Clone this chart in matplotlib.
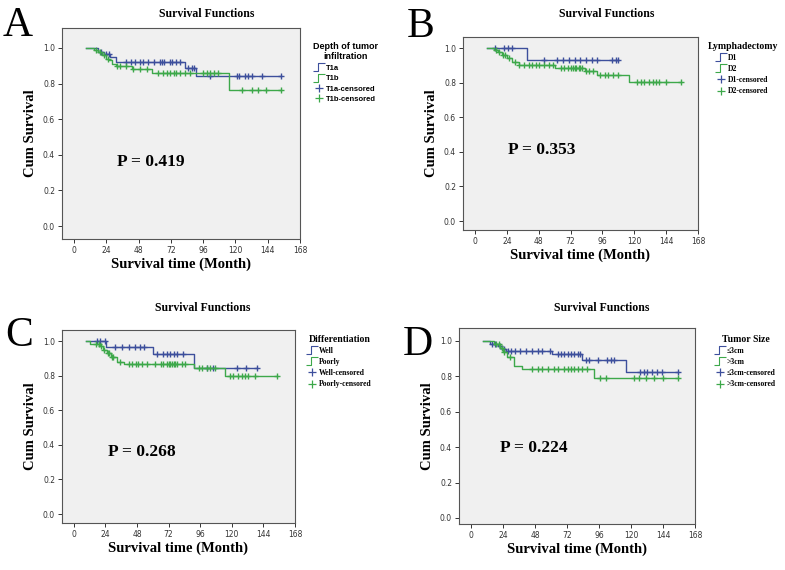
import numpy as np
import matplotlib
matplotlib.use("Agg")
import matplotlib.pyplot as plt
from matplotlib.path import Path
from matplotlib.lines import Line2D

# Kaplan-Meier curves: step times / survival, plus censored times
# Panel A - depth of tumor infiltration
a_t1a_time = [9, 18, 22, 27, 31, 82.5, 91, 154]
a_t1a_surv = [1.0, 0.98, 0.965, 0.95, 0.92, 0.885, 0.845, 0.845]
a_t1a_cens = [20, 24, 26, 38.6, 42, 45, 49, 51.5, 55, 59.5, 64, 65, 67, 71, 73, 76, 79,
              84.5, 87.5, 89, 101, 121, 123, 127, 129, 132, 139.5, 154]
a_t1b_time = [9, 15, 18, 21, 24, 26, 28, 31, 43, 58, 115, 154]
a_t1b_surv = [1.0, 0.99, 0.98, 0.96, 0.94, 0.93, 0.91, 0.90, 0.88, 0.86, 0.765, 0.765]
a_t1b_cens = [16, 19, 22, 25, 31.7, 34, 38.6, 44, 49, 54, 62.7, 66, 69, 71, 74, 76, 79,
              82.5, 86, 96, 99, 101, 104, 107, 124.6, 132, 137, 143, 154]

# Panel B - lymphadenectomy
b_d1_time = [9, 39.4, 108]
b_d1_surv = [1.0, 0.933, 0.933]
b_d1_cens = [15, 22, 25, 28, 52, 62, 66, 71, 75, 79, 84, 88, 92, 103, 106, 108]
b_d2_time = [9, 14, 17, 20, 24, 28, 33, 60, 83, 92, 116, 155]
b_d2_surv = [1.0, 0.99, 0.98, 0.96, 0.94, 0.92, 0.90, 0.885, 0.865, 0.842, 0.803, 0.803]
b_d2_cens = [16, 18, 21, 23, 26, 30, 33.5, 37, 41, 43, 46, 48, 52, 56, 59, 65, 67, 70, 72,
             74, 75, 76, 78, 79, 81, 84, 86, 89, 94, 98, 100, 104, 108, 122, 125, 127, 131,
             134, 136, 139, 144, 155]

# Panel C - differentiation
c_well_time = [9, 24.7, 60, 91, 139]
c_well_surv = [1.0, 0.965, 0.927, 0.843, 0.843]
c_well_cens = [17.7, 20, 23.7, 31.6, 36.6, 41.7, 46.7, 50.5, 53, 63, 68, 71, 73, 76, 78, 83,
               101, 106, 124, 131, 139]
c_poor_time = [9, 12, 20, 22, 25, 28, 33, 38, 91, 115, 154]
c_poor_surv = [1.0, 0.985, 0.97, 0.95, 0.93, 0.91, 0.88, 0.865, 0.845, 0.80, 0.80]
c_poor_cens = [17, 19, 21, 23, 26, 27, 29, 30, 35, 42, 44, 47, 49, 52, 55.5, 62, 66, 68, 71,
               72, 73, 74.5, 76, 77, 78, 82, 84.6, 95, 97, 101, 103.5, 107, 119, 121, 125,
               127.5, 130, 132.5, 137.6, 154]

# Panel D - tumor size
d_small_time = [9, 14, 20, 23, 26, 61, 83.6, 116, 155.6]
d_small_surv = [1.0, 0.985, 0.97, 0.955, 0.945, 0.925, 0.89, 0.825, 0.825]
d_small_cens = [16, 18, 22, 25, 28, 30, 33, 36.5, 41.4, 46, 50, 53, 59, 65, 67.5, 70, 72.4,
                75, 77, 80, 82, 86, 88.6, 95, 102, 105, 107, 127, 129.5, 132, 136, 139.5,
                143, 155.6]
d_large_time = [9, 17, 22, 24, 27, 32, 38, 92, 155.6]
d_large_surv = [1.0, 0.98, 0.96, 0.94, 0.91, 0.86, 0.842, 0.79, 0.79]
d_large_cens = [19, 21, 23, 25, 29, 46, 50, 53, 57.6, 62.5, 65, 70, 72.5, 75, 77, 80, 83.6,
                87, 97, 101, 122, 126, 131, 137, 144, 155.6]

p_values = ["P = 0.419", "P = 0.353", "P = 0.268", "P = 0.224"]
legend_titles = ["Depth of tumor\ninfiltration", "Lymphadectomy", "Differentiation", "Tumor Size"]
group_names = [["T1a", "T1b"], ["D1", "D2"], ["Well", "Poorly"], ["\u22643cm", ">3cm"]]
panel_letters = ["A", "B", "C", "D"]

BLUE = "#3d4f9c"
GREEN = "#3da84a"
W, H = 785, 570

fig = plt.figure(figsize=(W / 100, H / 100), dpi=100)
fig.patch.set_facecolor("white")

# little step icon for the legend, like SPSS draws it
step_icon = Path([(-1, -0.8), (-0.2, -0.8), (-0.2, 0.8), (1, 0.8)],
                 [Path.MOVETO, Path.LINETO, Path.LINETO, Path.LINETO])


def surv_at(times, surv, t):
    idx = np.searchsorted(times, t, side="right") - 1
    return np.asarray(surv)[idx]


def km_panel(box, ylim, groups, letter, letter_xy, title_xy, ptxt, p_xy,
             leg_title, names, leg_xy, leg_font):
    left, top, right, bottom = box
    ax = fig.add_axes([left / W, 1 - bottom / H, (right - left) / W, (bottom - top) / H])
    ax.set_facecolor("#f0f0f0")
    for (tt, ss, cc), col in zip(groups, [BLUE, GREEN]):
        tt = np.asarray(tt)
        ax.step(tt, ss, where="post", color=col, lw=1.0)
        cc = np.asarray(cc)
        ax.plot(cc, surv_at(tt, ss, cc), "+", color=col, ms=4.5, mew=1.0)
    ax.set_xlim(-9, 168)
    ax.set_ylim(*ylim)
    ax.set_xticks(np.arange(0, 169, 24))
    ax.set_yticks(np.arange(0, 1.01, 0.2))
    ax.set_yticklabels(["%.1f" % v for v in np.arange(0, 1.01, 0.2)])
    ax.tick_params(labelsize=5.5, length=3, width=0.7, colors="#333333", pad=2)
    for s in ax.spines.values():
        s.set_color("#555555")
        s.set_linewidth(0.8)
    ax.set_xlabel("Survival time (Month)", family="Liberation Serif", weight="bold",
                  fontsize=10.5, labelpad=2)
    ax.set_ylabel("Cum Survival", family="Liberation Serif", weight="bold",
                  fontsize=10.5, labelpad=4)
    ax.text(p_xy[0], p_xy[1], ptxt, family="Liberation Serif", weight="bold",
            fontsize=12.5, va="center", ha="left")

    fig.text(title_xy[0] / W, 1 - title_xy[1] / H, "Survival Functions",
             family="Liberation Serif", weight="bold", fontsize=8.5, ha="center", va="center")
    fig.text(letter_xy[0] / W, 1 - letter_xy[1] / H, letter, family="Liberation Serif",
             fontsize=30, ha="left", va="center")

    handles = [
        Line2D([], [], marker=step_icon, ls="none", color=BLUE, mfc="none", ms=8, mew=0.8),
        Line2D([], [], marker=step_icon, ls="none", color=GREEN, mfc="none", ms=8, mew=0.8),
        Line2D([], [], marker="+", ls="none", color=BLUE, ms=6, mew=0.9),
        Line2D([], [], marker="+", ls="none", color=GREEN, ms=6, mew=0.9),
    ]
    labels = [names[0], names[1], names[0] + "-censored", names[1] + "-censored"]
    leg = fig.legend(handles, labels, title=leg_title, loc="upper left",
                     bbox_to_anchor=(leg_xy[0] / W, 1 - leg_xy[1] / H), frameon=False,
                     prop={"family": leg_font, "weight": "bold", "size": 5.5},
                     handlelength=1.0, handletextpad=0.4, labelspacing=0.4,
                     borderpad=0, borderaxespad=0)
    leg.get_title().set_fontfamily(leg_font)
    leg.get_title().set_fontweight("bold")
    leg.get_title().set_multialignment("center")
    leg.get_title().set_fontsize(7 if leg_font != "Liberation Sans" else 6.5)
    return ax


km_panel((62, 28, 300, 239), (-0.073, 1.112),
         [(a_t1a_time, a_t1a_surv, a_t1a_cens), (a_t1b_time, a_t1b_surv, a_t1b_cens)],
         panel_letters[0], (3, 26), (207, 14), p_values[0], (32, 0.36),
         legend_titles[0], group_names[0], (313, 42), "Liberation Sans")

km_panel((463, 37, 698, 230), (-0.052, 1.064),
         [(b_d1_time, b_d1_surv, b_d1_cens), (b_d2_time, b_d2_surv, b_d2_cens)],
         panel_letters[1], (407, 27), (607, 14), p_values[1], (25, 0.41),
         legend_titles[1], group_names[1], (708, 42), "Liberation Serif")

km_panel((62, 330, 295, 523), (-0.052, 1.064),
         [(c_well_time, c_well_surv, c_well_cens), (c_poor_time, c_poor_surv, c_poor_cens)],
         panel_letters[2], (5, 336), (203, 308), p_values[2], (26, 0.36),
         legend_titles[2], group_names[2], (308, 335), "Liberation Serif")

km_panel((459, 328, 695, 524), (-0.034, 1.073),
         [(d_small_time, d_small_surv, d_small_cens), (d_large_time, d_large_surv, d_large_cens)],
         panel_letters[3], (403, 345), (602, 308), p_values[3], (22, 0.395),
         legend_titles[3], group_names[3], (716, 335), "Liberation Serif")

fig.savefig("out.png", dpi=100)
